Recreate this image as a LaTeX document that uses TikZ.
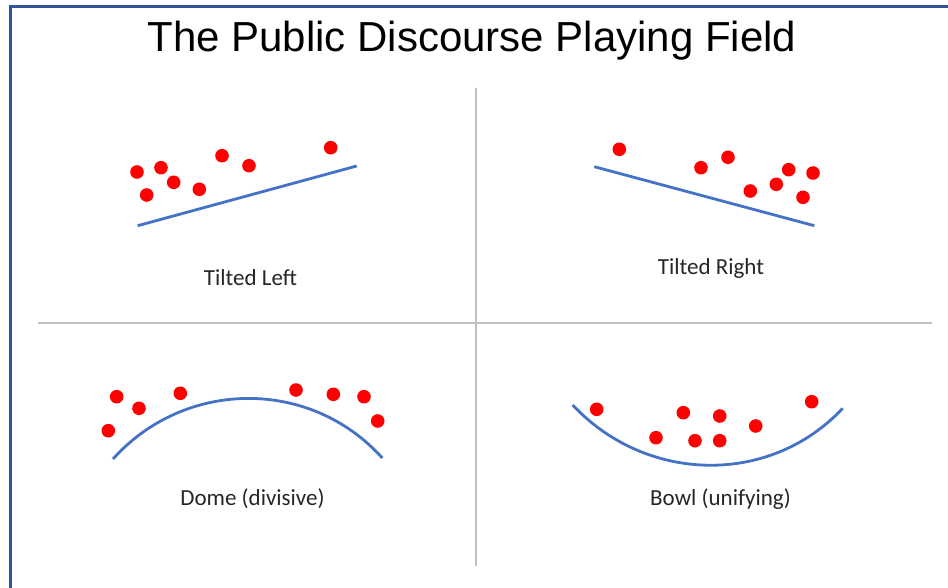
\documentclass[tikz,border=0pt]{standalone}
\usepackage{fontspec}
\setmainfont{Carlito}
\newfontfamily\titlefont{Liberation Sans}
\definecolor{frameblue}{HTML}{2F5597}
\definecolor{lineblue}{HTML}{4472C4}
\definecolor{gridgrey}{HTML}{BFBFBF}
\begin{document}
\begin{tikzpicture}[x=1pt,y=-1pt,
  dot/.style={fill=red},
  curve/.style={draw=lineblue,line width=2.8pt},
  grid/.style={draw=gridgrey,line width=1.3pt},
  label/.style={anchor=base,inner sep=0pt,font=\fontsize{23}{27}\selectfont,text=black!85},
  ttl/.style={anchor=base,inner sep=0pt,font=\titlefont\fontsize{42}{50}\selectfont}]
\useasboundingbox (0,0) rectangle (948,588);
% frame
\fill[frameblue] (8.5,5) rectangle (948,8);
\fill[frameblue] (8.5,5) rectangle (11.5,588);
% title
\node[ttl] (title) at (472,51.7) {The Public Discourse Playing Field};
% grid lines
\coordinate (vtop) at (476,88);
\coordinate (vbot) at (476,566);
\coordinate (hl) at (38,323);
\coordinate (hr) at (932,323);
\draw[grid] (vtop) -- (vbot);
\draw[grid] (hl) -- (hr);
% tilted left
\draw[curve] (137.7,225.7) -- (356.7,166);
\foreach \p in {(137,172),(146.7,195),(161,167.7),(173.7,182.3),(199.3,189.3),(222,155.7),(249,165.7),(330.7,147.7)}
  \fill[dot] \p circle[radius=6.8pt];
\node[label] (tl) at (250.5,286) {Tilted Left};
% tilted right
\draw[curve] (594.3,166.7) -- (814.3,225.7);
\foreach \p in {(619.3,149.3),(701,167.7),(728,157.3),(750.3,191),(776.3,184.3),(788.7,169.7),(813,173),(803,197.3)}
  \fill[dot] \p circle[radius=6.8pt];
\node[label] (tr) at (711,275) {Tilted Right};
% dome
\draw[curve] (113,459) .. controls (184.9,378.9) and (310.4,377.9) .. (382.3,458);
\foreach \p in {(116.7,396.7),(139,408.3),(108.3,430.7),(180.3,393.3),(296,390),(333.3,394.3),(364,396.7),(377.7,421)}
  \fill[dot] \p circle[radius=6.8pt];
\node[label] (dome) at (252.5,505) {Dome (divisive)};
% bowl
\draw[curve] (572.7,405) .. controls (645.8,483.1) and (769.6,486.4) .. (842.7,408.3);
\foreach \p in {(596.7,409.3),(656,437.7),(683.3,412.7),(695,440.7),(719.7,416),(719.7,440.7),(755.7,426),(811.7,401.7)}
  \fill[dot] \p circle[radius=6.8pt];
\node[label] (bowl) at (720.5,505) {Bowl (unifying)};
\end{tikzpicture}
\end{document}
